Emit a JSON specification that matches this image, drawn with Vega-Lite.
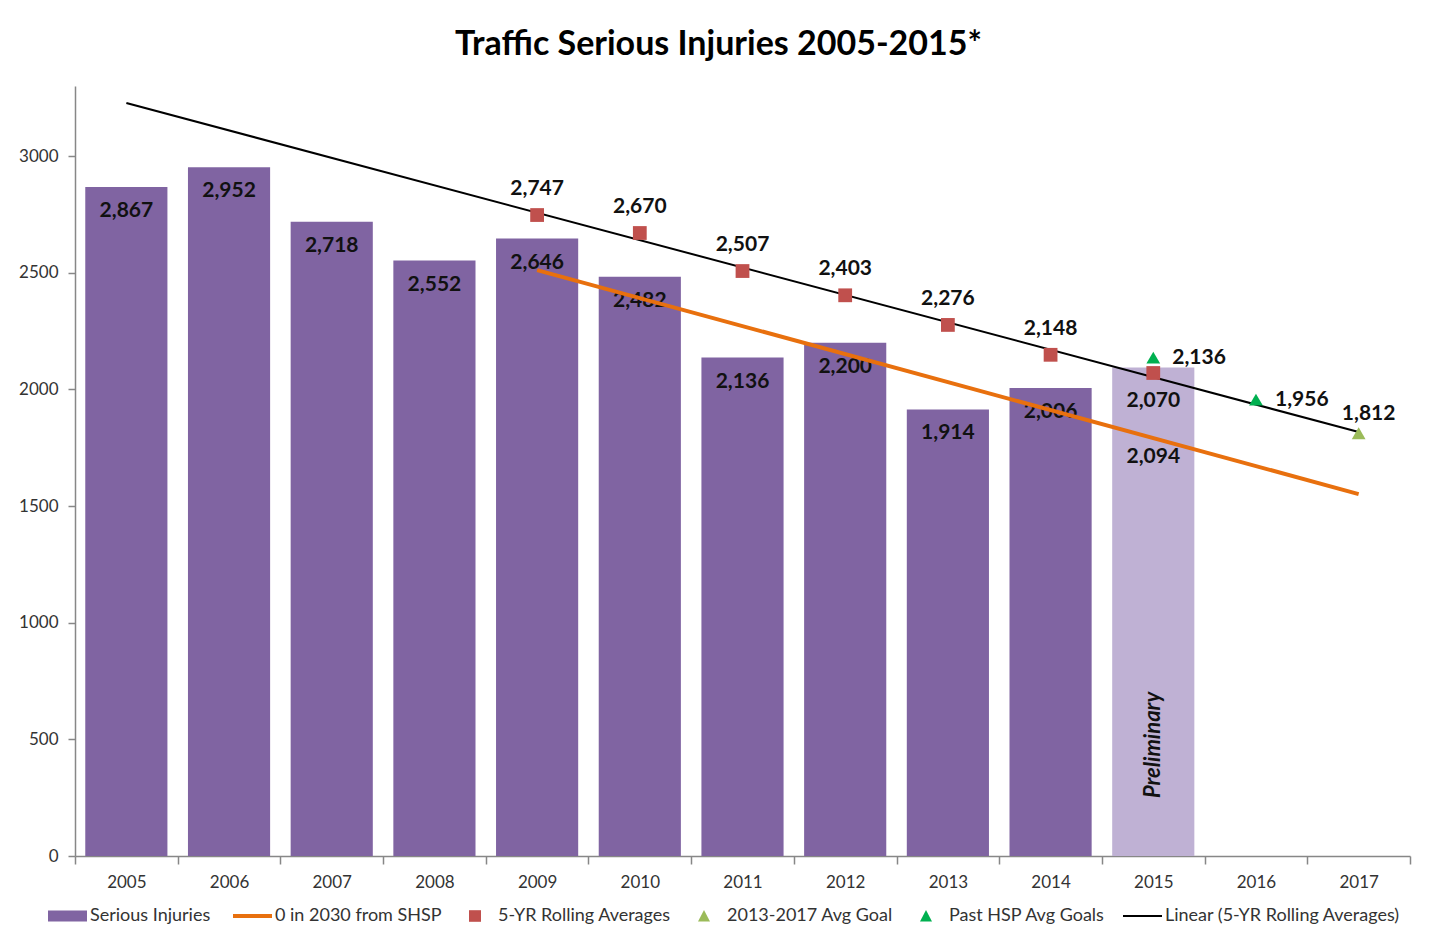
{
  "$schema": "https://vega.github.io/schema/vega-lite/v6.json",
  "autosize": {"type": "none"},
  "padding": {"left": 75, "top": 86, "right": 27, "bottom": 86},
  "width": 1335,
  "height": 770,
  "background": "white",
  "config": {"view": {"stroke": null}, "font": "Lato"},
  "title": {"text": "Traffic Serious Injuries 2005-2015*", "font": "Lato", "fontSize": 34, "fontWeight": "bold", "color": "#000000", "anchor": "middle", "frame": "group", "baseline": "alphabetic", "offset": -3, "dx": -24},
  "data": {"values": [
    {"year": "2005", "series": "Serious Injuries", "value": 2867},
    {"year": "2006", "series": "Serious Injuries", "value": 2952},
    {"year": "2007", "series": "Serious Injuries", "value": 2718},
    {"year": "2008", "series": "Serious Injuries", "value": 2552},
    {"year": "2009", "series": "Serious Injuries", "value": 2646},
    {"year": "2010", "series": "Serious Injuries", "value": 2482},
    {"year": "2011", "series": "Serious Injuries", "value": 2136},
    {"year": "2012", "series": "Serious Injuries", "value": 2200},
    {"year": "2013", "series": "Serious Injuries", "value": 1914},
    {"year": "2014", "series": "Serious Injuries", "value": 2006},
    {"year": "2015", "series": "Serious Injuries", "value": 2094},
    {"year": "2009", "series": "0 in 2030 from SHSP", "value": 2511},
    {"year": "2017", "series": "0 in 2030 from SHSP", "value": 1551},
    {"year": "2005", "series": "Linear (5-YR Rolling Averages)", "value": 3227},
    {"year": "2017", "series": "Linear (5-YR Rolling Averages)", "value": 1817},
    {"year": "2009", "series": "5-YR Rolling Averages", "value": 2747},
    {"year": "2010", "series": "5-YR Rolling Averages", "value": 2670},
    {"year": "2011", "series": "5-YR Rolling Averages", "value": 2507},
    {"year": "2012", "series": "5-YR Rolling Averages", "value": 2403},
    {"year": "2013", "series": "5-YR Rolling Averages", "value": 2276},
    {"year": "2014", "series": "5-YR Rolling Averages", "value": 2148},
    {"year": "2015", "series": "5-YR Rolling Averages", "value": 2070},
    {"year": "2015", "series": "Past HSP Avg Goals", "value": 2136},
    {"year": "2016", "series": "Past HSP Avg Goals", "value": 1956},
    {"year": "2017", "series": "2013-2017 Avg Goal", "value": 1812}
  ]},
  "encoding": {
    "x": {"field": "year", "type": "ordinal",
      "scale": {"domain": ["2005","2006","2007","2008","2009","2010","2011","2012","2013","2014","2015","2016","2017"], "paddingInner": 0, "paddingOuter": 0},
      "axis": {"title": null, "labelAngle": 0, "tickBand": "extent", "tickSize": 8, "labelPadding": 10, "labelFont": "Lato", "labelFontSize": 17, "labelColor": "#333333", "domainColor": "#878787", "domainWidth": 1.5, "tickColor": "#878787", "tickWidth": 1.5}},
    "y": {"field": "value", "type": "quantitative",
      "scale": {"domain": [0, 3300], "nice": false, "zero": true},
      "axis": {"title": null, "values": [0,500,1000,1500,2000,2500,3000], "format": "d", "grid": false, "tickSize": 7, "labelPadding": 10, "labelFont": "Lato", "labelFontSize": 17, "labelColor": "#333333", "domainColor": "#878787", "domainWidth": 1.5, "tickColor": "#878787", "tickWidth": 1.5}}
  },
  "layer": [
    {
      "transform": [{"filter": "datum.series === 'Serious Injuries'"}],
      "mark": {"type": "bar", "width": {"band": 0.8}},
      "encoding": {
        "color": {
          "condition": {"test": "datum.year === '2015'", "value": "#bfb1d4"},
          "field": "series", "type": "nominal",
          "scale": {"domain": ["Serious Injuries", "0 in 2030 from SHSP", "5-YR Rolling Averages", "2013-2017 Avg Goal", "Past HSP Avg Goals", "Linear (5-YR Rolling Averages)"],
                    "range": ["#8064a2", "#e8700e", "#c0504d", "#9bbb59", "#00b050", "#000000"]},
          "legend": {
            "title": null, "orient": "none", "direction": "horizontal", "legendX": -27, "legendY": 821, "padding": 0,
            "symbolSize": 1600, "columnPadding": 14, "labelOffset": 24, "labelLimit": 400,
            "labelFont": "Lato", "labelFontSize": 18, "labelColor": "#333333",
            "encode": {"symbols": {"update": {
              "shape": {"signal": "datum.value === 'Serious Injuries' ? 'M-0.45,-0.27H1.5V0.27H-0.45Z' : (datum.value === '0 in 2030 from SHSP' || datum.value === 'Linear (5-YR Rolling Averages)') ? 'M-0.45,0H1.5' : datum.value === '5-YR Rolling Averages' ? 'M0.2,-0.29H0.8V0.29H0.2Z' : 'M0.5,-0.3L0.8,0.28H0.2Z'"},
              "fill": {"scale": "color", "field": "value"},
              "stroke": {"scale": "color", "field": "value"},
              "strokeWidth": {"signal": "datum.value === '0 in 2030 from SHSP' ? 4 : datum.value === 'Linear (5-YR Rolling Averages)' ? 2 : 0"},
              "opacity": {"value": 1}
            }}}
          }
        }
      }
    },
    {
      "transform": [{"filter": "datum.series === 'Serious Injuries' && datum.year !== '2015'"}],
      "mark": {"type": "text", "dy": 24, "baseline": "middle", "font": "Lato", "fontSize": 21, "fontWeight": "bold", "color": "#111111"},
      "encoding": {"text": {"field": "value", "type": "quantitative", "format": ",d"}}
    },
    {
      "transform": [{"filter": "datum.series === 'Serious Injuries' && datum.year === '2015'"}],
      "mark": {"type": "text", "dy": 90, "baseline": "middle", "font": "Lato", "fontSize": 21, "fontWeight": "bold", "color": "#111111"},
      "encoding": {"text": {"field": "value", "type": "quantitative", "format": ",d"}}
    },
    {
      "transform": [{"filter": "datum.series === 'Serious Injuries' && datum.year === '2015'"}],
      "mark": {"type": "text", "angle": 270, "baseline": "middle", "align": "center", "font": "Lato", "fontSize": 22, "fontWeight": "bold", "fontStyle": "italic", "color": "#111111"},
      "encoding": {"y": {"datum": 476, "type": "quantitative"}, "text": {"value": "Preliminary"}}
    },
    {
      "transform": [{"filter": "datum.series === '0 in 2030 from SHSP'"}],
      "mark": {"type": "line", "strokeWidth": 4},
      "encoding": {"color": {"field": "series", "type": "nominal"}}
    },
    {
      "transform": [{"filter": "datum.series === 'Linear (5-YR Rolling Averages)'"}],
      "mark": {"type": "line", "strokeWidth": 2},
      "encoding": {"color": {"field": "series", "type": "nominal"}}
    },
    {
      "transform": [{"filter": "datum.series === '5-YR Rolling Averages'"}],
      "mark": {"type": "point", "shape": "square", "filled": true, "size": 190, "opacity": 1},
      "encoding": {"color": {"field": "series", "type": "nominal"}}
    },
    {
      "transform": [{"filter": "datum.series === 'Past HSP Avg Goals' || datum.series === '2013-2017 Avg Goal'"}],
      "mark": {"type": "point", "shape": "triangle-up", "filled": true, "size": 190, "opacity": 1},
      "encoding": {"color": {"field": "series", "type": "nominal"}}
    },
    {
      "transform": [{"filter": "datum.series === '5-YR Rolling Averages' && datum.year !== '2015'"}],
      "mark": {"type": "text", "dy": -26, "baseline": "middle", "font": "Lato", "fontSize": 21, "fontWeight": "bold", "color": "#111111"},
      "encoding": {"text": {"field": "value", "type": "quantitative", "format": ",d"}}
    },
    {
      "transform": [{"filter": "datum.series === '5-YR Rolling Averages' && datum.year === '2015'"}],
      "mark": {"type": "text", "dy": 28, "baseline": "middle", "font": "Lato", "fontSize": 21, "fontWeight": "bold", "color": "#111111"},
      "encoding": {"text": {"field": "value", "type": "quantitative", "format": ",d"}}
    },
    {
      "transform": [{"filter": "datum.series === 'Past HSP Avg Goals'"}],
      "mark": {"type": "text", "dx": 19, "dy": 0, "align": "left", "baseline": "middle", "font": "Lato", "fontSize": 21, "fontWeight": "bold", "color": "#111111"},
      "encoding": {"text": {"field": "value", "type": "quantitative", "format": ",d"}}
    },
    {
      "transform": [{"filter": "datum.series === '2013-2017 Avg Goal'"}],
      "mark": {"type": "text", "dx": 10, "dy": -19, "align": "center", "baseline": "middle", "font": "Lato", "fontSize": 21, "fontWeight": "bold", "color": "#111111"},
      "encoding": {"text": {"field": "value", "type": "quantitative", "format": ",d"}}
    }
  ]
}
